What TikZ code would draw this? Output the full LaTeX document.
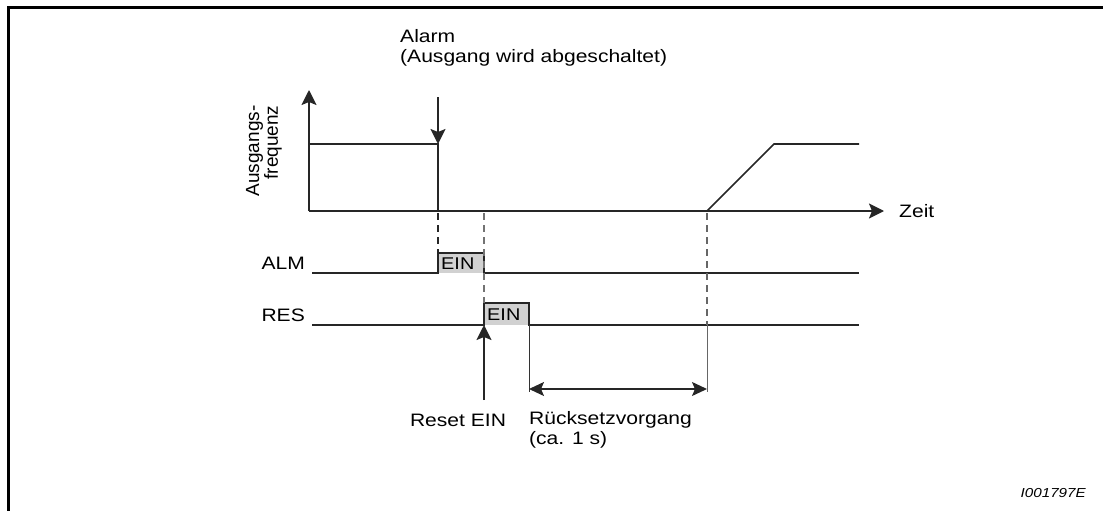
\documentclass[tikz,border=0pt]{standalone}
\usepackage{fontspec}
\setmainfont{Liberation Sans}[FakeStretch=1.17]
\newfontfamily\plainsans{Liberation Sans}
\usetikzlibrary{arrows.meta}
\tikzset{
  axis/.style={line width=2pt, draw=black!85},
  sig/.style={line width=1.6pt, draw=black!85},
  bigarrow/.style={-{Stealth[length=15pt,width=15pt,inset=3pt]}},
  dashline/.style={line width=1.4pt, dash pattern=on 7pt off 5pt},
  thin/.style={line width=1pt, draw=black!60},
  lbl/.style={font=\fontsize{18}{20}\selectfont, inner sep=0pt},
  einbox/.style={fill=black!18},
  ein/.style={font=\fontsize{17}{18}\selectfont, inner sep=0pt, anchor=west},
}
\begin{document}
\begin{tikzpicture}[x=1pt,y=-1pt]
\useasboundingbox (0,0) rectangle (1103,511);
\draw[line width=2.2pt] (8.5,511) -- (8.5,7.5) -- (1103,7.5);
% axes
\coordinate (o) at (309,211);
\coordinate (ytop) at (309,90);
\coordinate (xend) at (884,211);
\draw[axis,bigarrow] (o) -- (ytop);
\draw[axis,bigarrow] (o) -- (xend);
\node[lbl, anchor=west] (zeit) at (899,211) {Zeit};
\node[font=\plainsans\fontsize{19}{16}\selectfont, inner sep=0pt, rotate=90, align=right, anchor=center] (af) at (264,151) {Ausgangs-\\frequenz};
% frequency curve
\coordinate (f1) at (309,144);
\coordinate (f2) at (438,144);
\coordinate (f3) at (438,211);
\draw[sig] (f1) -- (f2) -- (f3);
\coordinate (r0) at (707,211);
\coordinate (r1) at (774,144);
\coordinate (r2) at (859,144);
\draw[sig] (r0) -- (r1) -- (r2);
% alarm arrow
\node[lbl, anchor=north west, align=left] (alarm) at (400,29) {Alarm\\(Ausgang wird abgeschaltet)};
\coordinate (aa) at (438,97);
\draw[sig,bigarrow] (aa) -- (f2);
% ALM signal
\fill[einbox] (438,253) rectangle (484,273);
\draw[sig] (312,273) -- (438,273) -- (438,253) -- (484,253) -- (484,273) -- (859,273);
\node[ein] (ein1) at (441,263.5) {EIN};
\node[lbl, anchor=east] (alm) at (305,263) {ALM};
% RES signal
\fill[einbox] (484,303) rectangle (529,325);
\draw[sig] (312,325) -- (484,325) -- (484,303) -- (529,303) -- (529,325) -- (859,325);
\node[ein] (ein2) at (487,314.5) {EIN};
\node[lbl, anchor=east] (res) at (305,315) {RES};
% dashed lines
\draw[dashline, draw=black!85] (438,213) -- (438,253);
\draw[dashline, draw=black!55] (484,213) -- (484,303);
\draw[dashline, draw=black!60] (707,213) -- (707,325);
\draw[thin] (707,325) -- (707,392);
\draw[thin, draw=black!80] (529,325) -- (529,392);
% dimension
\draw[sig, {Stealth[length=15pt,width=14pt,inset=3pt]}-{Stealth[length=15pt,width=14pt,inset=3pt]}] (529,389) -- (707,389);
% reset arrow
\draw[sig, bigarrow] (484,400) -- (484,325);
\node[lbl] (reset) at (458,420) {Reset EIN};
\node[lbl, anchor=north west, align=left] (rv) at (529,411) {R\"ucksetzvorgang\\(ca. 1 s)};
\node[font=\fontsize{13}{15}\selectfont\itshape, inner sep=0pt, anchor=east] (id) at (1086,493) {I001797E};
\end{tikzpicture}
\end{document}
